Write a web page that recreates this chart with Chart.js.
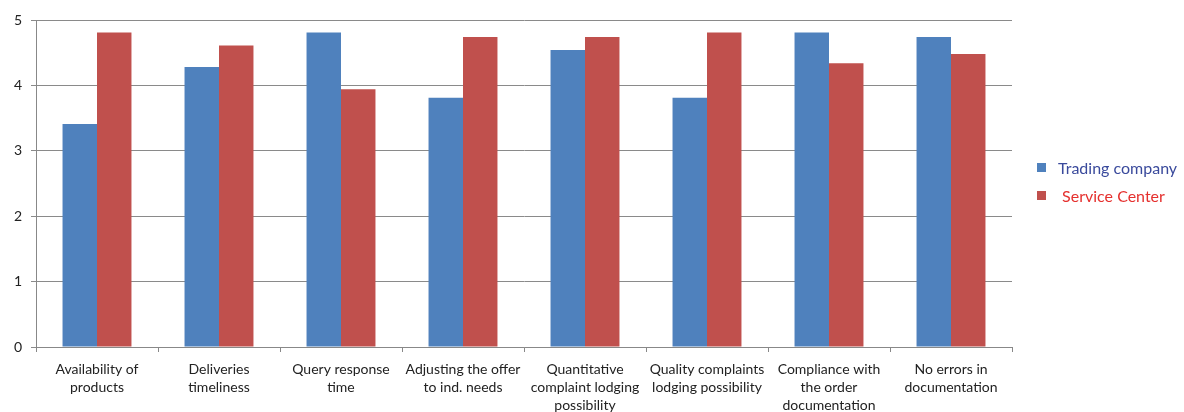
<!DOCTYPE html>
<html>
<head>
<meta charset="utf-8">
<script src="https://cdn.jsdelivr.net/npm/chart.js@4"></script>
<style>
  html, body { margin: 0; padding: 0; background: #fff; }
  #wrap { position: relative; width: 1184px; height: 412px; }
  #legend { position: absolute; left: 1037px; top: 153px; font-family: Lato, "Open Sans", sans-serif; font-size: 16px; }
  .item { display: flex; align-items: center; height: 28px; }
  .sw { width: 9px; height: 9px; margin-right: 12px; }
</style>
</head>
<body>
<div id="wrap">
  <canvas id="c" width="1184" height="412"></canvas>
  <div id="legend"></div>
</div>
<script>
const categories = [
  ["Availability of", "products"],
  ["Deliveries", "timeliness"],
  ["Query response", "time"],
  ["Adjusting the offer", "to ind. needs"],
  ["Quantitative", "complaint lodging", "possibility"],
  ["Quality complaints", "lodging possibility"],
  ["Compliance with", "the order", "documentation"],
  ["No errors in", "documentation"]
];
const tradingCompany = [3.41, 4.28, 4.81, 3.81, 4.54, 3.81, 4.81, 4.74];
const serviceCenter  = [4.81, 4.61, 3.94, 4.74, 4.74, 4.81, 4.34, 4.48];
const seriesNames = ["Trading company", "Service Center"];
const seriesColors = ["#4F81BD", "#C0504D"];
const legendTextColors = ["#3A4A9C", "#E5302E"];
const yTicks = [0, 1, 2, 3, 4, 5];

const font = { family: "Lato, 'Open Sans', sans-serif", size: 14 };

new Chart(document.getElementById('c'), {
  type: 'bar',
  data: {
    labels: categories,
    datasets: [
      { label: seriesNames[0], data: tradingCompany, backgroundColor: seriesColors[0] },
      { label: seriesNames[1], data: serviceCenter, backgroundColor: seriesColors[1] }
    ]
  },
  options: {
    responsive: false,
    animation: false,
    devicePixelRatio: 1,
    layout: { padding: { left: 0, right: 172, top: 20, bottom: 0 } },
    datasets: { bar: { categoryPercentage: 0.565, barPercentage: 1.0 } },
    plugins: { legend: { display: false }, tooltip: { enabled: false } },
    scales: {
      x: {
        grid: { display: true, drawOnChartArea: false, drawTicks: true, tickLength: 5, color: '#888888', offset: true },
        border: { display: true, color: '#888888', width: 1 },
        ticks: { color: '#222', font: { ...font, lineHeight: 1.3 }, padding: 8, maxRotation: 0, autoSkip: false },
        afterFit(scale) { scale.height = 65; }
      },
      y: {
        min: 0, max: 5,
        afterBuildTicks(scale) { scale.ticks = yTicks.map(v => ({ value: v })); },
        grid: { color: '#8a8a8a', lineWidth: 1, drawTicks: true, tickLength: 5 },
        border: { display: true, color: '#888888', width: 1 },
        ticks: { color: '#222', font: { ...font, size: 14 }, padding: 9 },
        afterFit(scale) { scale.width = 36; }
      }
    }
  }
});

const leg = document.getElementById('legend');
seriesNames.forEach((n, i) => {
  const d = document.createElement('div');
  d.className = 'item';
  const s = document.createElement('span');
  s.className = 'sw';
  s.style.background = seriesColors[i];
  const t = document.createElement('span');
  t.textContent = (i === 1 ? '\u00a0' : '') + n;
  t.style.color = legendTextColors[i];
  d.appendChild(s); d.appendChild(t);
  leg.appendChild(d);
});
</script>
</body>
</html>
